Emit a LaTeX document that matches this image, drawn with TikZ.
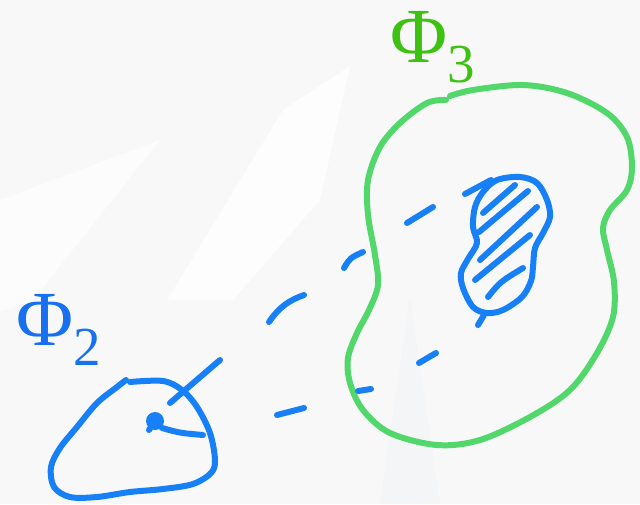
\documentclass[tikz,border=0pt]{standalone}
\usepackage{fontspec}
\usepackage{tikz}
\usetikzlibrary{calc}
\newfontfamily\labelfont{Liberation Serif}
\definecolor{penblue}{RGB}{24,128,246}
\definecolor{pengreen}{RGB}{82,216,106}
\definecolor{labelgreen}{RGB}{62,194,18}
\definecolor{labelblue}{RGB}{22,112,240}
\definecolor{paper}{RGB}{248,248,249}
\definecolor{faintgray}{RGB}{244,245,247}

\begin{document}
\begin{tikzpicture}[x=1pt,y=-1pt,
    pen/.style={line width=6pt,line cap=round,line join=round},
    bluepen/.style={pen,draw=penblue},
    greenpen/.style={pen,draw=pengreen},
    biglabel/.style={inner sep=0pt,anchor=base west,font=\labelfont\fontsize{78}{80}\selectfont}]
  % Page
  \fill[paper] (0,0) rectangle (640,504);
  \useasboundingbox (0,0) rectangle (640,504);
  % Faint background stripes
  \fill[white!60!paper] (0,200) -- (160,140) -- (33,300) -- (0,312) -- cycle;
  \fill[white!70!paper] (283,110) -- (350,66) -- (320,200) -- (233,300) -- (167,300) -- cycle;
  \fill[faintgray] (410,297) -- (440,504) -- (380,504) -- cycle;
  % Coordinates
  \coordinate (D) at (155,421);
  \coordinate (T) at (203,435);
  \coordinate (E) at (170,403);
  \coordinate (F) at (220,360);
  % Labels
  \node[biglabel,text=labelblue] (phitwo) at (16,345)
    {Φ\raisebox{-20pt}{\fontsize{55}{60}\selectfont 2}};
  \node[biglabel,text=labelgreen] (phithree) at (390,62)
    {Φ\raisebox{-20pt}{\fontsize{55}{60}\selectfont 3}};
  % Green domain
  \draw[greenpen] plot[smooth,tension=0.55] coordinates {
    (450,96) (473,90) (523,85) (567,93) (607,113) (627,137) (632,167)
    (627,190) (610,210) (603,228) (607,250) (614,282) (613,317) (597,353)
    (570,390) (530,417) (480,440) (437,445) (390,433) (363,410) (350,383)
    (348,358) (357,333) (369,310) (378,285) (375,255) (368,215) (368,180)
    (380,147) (400,123) (427,103) (446,100)};
  % Blue domain with point
  \draw[bluepen] plot[smooth,tension=0.55] coordinates {
    (130,382) (163,381) (182,390) (197,407) (210,433) (215,460) (211,473)
    (193,484) (163,489) (130,492) (97,497) (70,497) (54,487) (51,467)
    (60,448) (77,427) (97,403) (117,387) (126,380)};
  \fill[penblue] (D) circle (9);
  \draw[bluepen] (D) -- ++(-6,9);
  \draw[bluepen] (162,428) .. controls (180,433) .. (T);
  \draw[bluepen] (E) -- (F);
  % Hatched region
  \draw[bluepen] plot[smooth cycle,tension=0.55] coordinates {
    (497,180) (520,177) (537,183) (547,200) (550,217) (543,233) (535,248)
    (533,267) (531,281) (522,297) (503,310) (487,313) (473,307) (463,288)
    (461,273) (468,259) (477,243) (473,227) (475,207) (483,192)};
  \draw[bluepen] (465,194) -- (491,180);
  \foreach \ax/\ay/\bx/\by in {483/213/515/185, 479/232/528/191, 480/260/537/207, 475/280/530/235}
    \draw[bluepen] (\ax,\ay) -- (\bx,\by);
  \draw[bluepen] (488,297) .. controls (500,282) .. (523,268);
  % Dashes
  \draw[bluepen] (407,223) -- (433,207);
  \draw[bluepen] (344,268) .. controls (350,258) .. (363,252);
  \draw[bluepen] (269,322) .. controls (280,306) and (290,300) .. (304,295);
  \draw[bluepen] (277,415) -- (304,408);
  \draw[bluepen] (358,391) -- (371,389);
  \draw[bluepen] (419,363) -- (436,353);
  \draw[bluepen] (478,325) -- (484,315);
\end{tikzpicture}
\end{document}
